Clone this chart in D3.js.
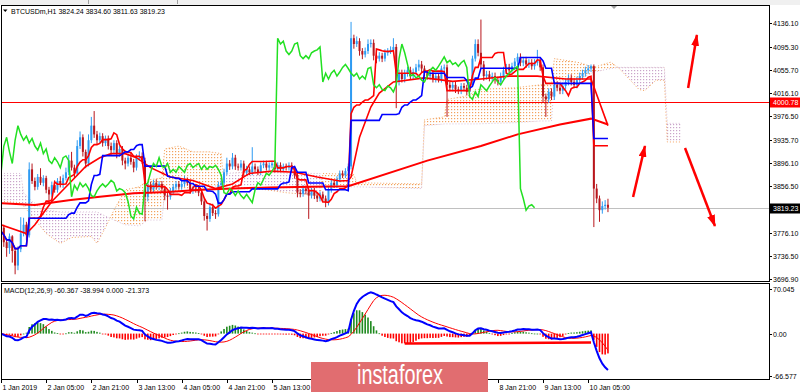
<!DOCTYPE html>
<html>
<head>
<meta charset="utf-8">
<script src="https://cdn.jsdelivr.net/npm/d3@7"></script>
<style>
  body { margin: 0; background: #fff; }
  svg { display: block; }
  text { font-family: "Liberation Sans", Arial, sans-serif; }
</style>
</head>
<body>
<svg id="chart" width="800" height="392"></svg>
<script>
// ---- data ----
const titleText = "BTCUSDm,H1  3824.24 3834.60 3811.63 3819.23";
const macdTitle = "MACD(12,26,9) -60.367 -38.994 0.000 -21.373";

// hourly candles, bar 0 = 1 Jan 13:00
const firstOpen = 3775;
const closes = [
  3785,3760,3750,3770,3745,3720,3748,3775,3790,3772,
  3885,3865,3855,3872,3862,3870,3850,3842,3858,3850,
  3865,3858,3870,3880,3900,3888,3878,3925,3940,3915,
  3895,3935,3960,3945,3935,3942,3930,3938,3925,3918,
  3930,3912,3920,3900,3895,3905,3898,3888,3905,3908,
  3900,3838,3858,3850,3862,3855,3860,3852,3840,3838,
  3848,3855,3860,3855,3860,3866,3862,3848,3852,3850,
  3845,3830,3805,3800,3820,3810,3808,3858,3862,3880,
  3895,3890,3905,3890,3888,3895,3880,3885,3880,3890,
  3885,3880,3892,3895,3888,3892,3895,3885,3892,3885,
  3890,3888,3892,3885,3875,3845,3843,3852,3848,3840,
  3848,3840,3835,3842,3835,3828,3850,3862,3858,3868,
  3878,3875,3882,3890,4110,4100,4105,4088,4082,4088,
  4100,4102,4080,4075,4080,4075,4085,4088,4090,4095,
  4035,4050,4040,4050,4055,4045,4052,4060,4065,4058,
  4050,4045,4050,4040,4045,4040,4058,4060,4030,4025,
  4030,4022,4020,4028,4025,4018,4030,4075,4100,4085,
  4065,4045,4048,4042,4045,4038,4035,4045,4055,4060,
  4055,4062,4070,4078,4068,4072,4065,4068,4062,4068,
  4072,4060,4010,4005,4018,4010,4030,4025,4020,4028,
  4035,4042,4035,4030,4038,4045,4050,4055,4058,4062,
  3852,3835,3815,3822,3824.24,3819.23
];
// wick length above the body / below the body
const upWick = [
  8,5,6,5,2,5,5,28,12,5,  12,10,6,5,15,5,4,5,6,8,  5,8,6,8,10,15,5,10,10,5,
  4,10,15,25,6,6,5,5,5,6,  5,5,6,5,5,6,8,5,6,8,  6,5,5,6,5,6,5,5,5,5,
  5,5,5,5,5,8,5,5,5,5,  5,5,5,5,6,6,5,6,8,6,  10,6,8,5,5,6,5,6,5,33,
  5,5,5,5,5,5,5,5,5,5,  5,5,5,5,5,5,6,6,5,8,  5,5,5,5,5,5,5,5,5,5,
  5,5,5,5,28,6,8,5,5,6,  8,6,6,5,6,5,6,5,6,15,  5,6,6,6,6,6,6,6,8,6,
  5,5,5,5,5,5,5,5,5,5,  5,5,5,5,5,5,5,5,8,8,  57,6,6,6,6,6,6,6,6,6,
  6,6,6,6,6,6,6,6,6,6,  18,5,5,5,6,6,6,6,6,6,  6,6,6,6,6,6,6,6,6,3,
  3,8,5,8,8,10.36
];
const downWick = [
  10,8,15,10,20,15,8,5,5,8,  4,5,6,5,4,6,6,10,4,5,  5,4,5,4,5,5,8,4,5,8,
  8,5,5,6,8,5,6,5,6,8,  5,8,5,8,10,5,5,8,5,5,  6,42,8,6,5,5,6,6,8,22,
  5,5,5,5,5,5,5,5,5,5,  6,6,8,20,5,5,8,4,5,5,  5,6,5,6,5,5,6,5,5,5,
  5,5,5,5,5,5,5,5,5,5,  5,5,5,5,6,8,6,5,6,40,  5,6,6,5,6,8,5,5,5,5,
  5,5,5,5,5,8,5,8,8,5,  5,6,8,8,5,6,5,5,5,5,  45,6,6,6,6,6,6,6,6,6,
  6,6,6,6,6,6,6,6,55,6,  6,6,6,6,6,6,6,4,5,6,  6,8,6,6,6,6,6,6,6,6,
  6,6,6,6,6,6,6,6,6,6,  5,6,10,30,6,6,6,6,6,6,  6,6,6,6,6,6,6,6,6,6,
  66,8,20,6,6,7.6
];

// Ichimoku cloud (Senkou spans, already shifted 26 bars ahead)
const cloudBars = [0,7,8,11,16,21,25,32,34,37,40,44,49,52,57,58,63,68,74,78,79,86,94,101,113,114,125,126,149,150,157,158,166,168,182,191,195,196,205,210,216,219,226,228,232,235,236,241];
const cloudA = [3830,3828,3822,3805,3775,3758,3768,3770,3758,3785,3815,3850,3855,3867,3870,3920,3925,3915,3915,3912,3860,3852,3850,3845,3840,3878,3876,3862,3860,3970,3975,4005,4012,4022,4025,4030,4032,4075,4068,4060,4069,4058,4022,4020,4038,4038,3932,3932];
const cloudB = [3878,3878,3845,3830,3815,3812,3812,3812,3812,3805,3798,3790,3788,3798,3798,3845,3845,3850,3855,3858,3878,3880,3882,3878,3878,3855,3855,3855,3852,3960,3963,3963,3963,3963,3965,3968,3968,4035,4040,4052,4058,4060,4060,4060,4060,4060,3964,3964];

// moving averages
const maSlowBars = [0,12,24,35,47,59,71,82,95,110,123,151,170,183,198,209,215];
const maSlowVals = [3827,3824,3832,3838,3844,3846,3850,3852,3854,3855,3856,3900,3925,3945,3962,3972,3962];
const maFastBars = [0,9,12,18,24,30,35,39,44,48,53,60,68,76,82,88,96,104,112,120,123,124,127,131,134,139,150,160,170,180,190,200,209,215];
const maFastVals = [3790,3775,3790,3830,3860,3890,3905,3912,3912,3905,3888,3872,3866,3852,3860,3878,3882,3880,3872,3865,3866,3872,3940,3992,4016,4035,4042,4036,4040,4045,4045,4040,4040,3960];

// horizontal levels
const levelPrice = 4000.78;
const lastPrice = 3819.23;

// drawn arrows [bar, price] -> [bar, price]
const arrows = [
  {from: [243.4, 4024.6], to: [246.5, 4115.5]},
  {from: [223.9, 3837.6], to: [228.1, 3925.0]},
  {from: [242.3, 3921.6], to: [252.9, 3787.8]}
];
// trend line on the MACD window
const macdTrend = [{bar: 143, v: -15.5}, {bar: 209, v: -14.0}];

const priceTicks = [4136.10, 4095.30, 4055.70, 4016.10, 3976.50, 3935.70, 3896.10, 3856.50, 3776.10, 3736.50, 3696.90];
const macdTicks = [{v: 70.045, t: "70.045"}, {v: 0, t: "0.00"}, {v: -66.577, t: "-66.577"}];
// labels still visible (the ones under the watermark are hidden in the picture)
const timeLabels = [
  {bar: 0, t: "1 Jan 2019"}, {bar: 16, t: "2 Jan 05:00"}, {bar: 32, t: "2 Jan 21:00"},
  {bar: 48, t: "3 Jan 13:00"}, {bar: 64, t: "4 Jan 05:00"}, {bar: 80, t: "4 Jan 21:00"},
  {bar: 96, t: "5 Jan 13:00"}, {bar: 176, t: "8 Jan 21:00"},
  {bar: 192, t: "9 Jan 13:00"}, {bar: 208, t: "10 Jan 05:00"}
];

// ---- layout ----
const svg = d3.select("#chart");
const main = {left: 1, right: 769, top: 5, bottom: 281};
const sub = {top: 283, bottom: 379};

const x = d3.scaleLinear().domain([0, 208]).range([1, 588.2]);
const y = d3.scaleLinear().domain([3696.9, 4136.1]).range([279, 23]);
const ym = d3.scaleLinear().domain([-66.577, 70.045]).range([376, 289]);

// ---- derived series ----
const bars = closes.map((c, i) => {
  const o = i === 0 ? firstOpen : closes[i - 1];
  return {i, o, c, h: Math.max(o, c) + upWick[i], l: Math.min(o, c) - downWick[i]};
});

function midRange(i, n) {
  const win = bars.slice(Math.max(0, i - n + 1), i + 1);
  return (d3.max(win, d => d.h) + d3.min(win, d => d.l)) / 2;
}
const tenkan = bars.map(d => ({bar: d.i, v: midRange(d.i, 9)}));
const kijun = bars.map(d => ({bar: d.i, v: midRange(d.i, 26)}));
const chikou = bars.filter(d => d.i >= 26).map(d => ({bar: d.i - 26, v: d.c}));

function ema(vals, n) {
  const k = 2 / (n + 1);
  let e = vals[0];
  return vals.map(v => (e = e + k * (v - e)));
}
const e12 = ema(closes, 12), e26 = ema(closes, 26);
const macd = closes.map((_, i) => e12[i] - e26[i]);
const signal = macd.map((_, i) => d3.mean(macd.slice(Math.max(0, i - 8), i + 1)));
const hist = macd.map((m, i) => m - signal[i]);

// ---- defs ----
const defs = svg.append("defs");
function dotPattern(id, color) {
  const p = defs.append("pattern").attr("id", id)
    .attr("width", 3).attr("height", 3).attr("patternUnits", "userSpaceOnUse");
  p.append("rect").attr("x", 1).attr("y", 1).attr("width", 1.2).attr("height", 1.2).attr("fill", color);
}
dotPattern("dotsA", "#f2a25e");
dotPattern("dotsB", "#c9a3c9");

defs.append("clipPath").attr("id", "clipMain").append("rect")
  .attr("x", main.left + 1).attr("y", main.top + 1)
  .attr("width", main.right - main.left - 1).attr("height", main.bottom - main.top - 1);
defs.append("clipPath").attr("id", "clipSub").append("rect")
  .attr("x", main.left + 1).attr("y", sub.top + 1)
  .attr("width", main.right - main.left - 1).attr("height", sub.bottom - sub.top - 1);

const cloud = cloudBars.map((b, k) => ({b, a: cloudA[k], s: cloudB[k]}));
defs.append("clipPath").attr("id", "aboveB").append("path")
  .attr("d", d3.area().x(d => x(d.b)).y0(main.top).y1(d => y(d.s))(cloud));
defs.append("clipPath").attr("id", "belowB").append("path")
  .attr("d", d3.area().x(d => x(d.b)).y0(main.bottom).y1(d => y(d.s))(cloud));

const mk = defs.append("marker").attr("id", "head")
  .attr("viewBox", "0 0 12 8").attr("refX", 11).attr("refY", 4)
  .attr("markerWidth", 12).attr("markerHeight", 8)
  .attr("markerUnits", "userSpaceOnUse").attr("orient", "auto");
mk.append("path").attr("d", "M0,0 L12,4 L0,8 Z").attr("fill", "#ff0000");

// ---- window chrome ----
svg.append("rect").attr("x", 0).attr("y", 0).attr("width", 800).attr("height", 5).attr("fill", "#f0f0f0");
[88.5, 177.5].forEach(px => svg.append("line").attr("x1", px).attr("x2", px).attr("y1", 0).attr("y2", 4)
  .attr("stroke", "#a0a0a0"));

// ---- main chart ----
const g = svg.append("g").attr("clip-path", "url(#clipMain)");

const band = d3.area().x(d => x(d.b)).y0(d => y(d.s)).y1(d => y(d.a));
g.append("path").attr("d", band(cloud)).attr("fill", "url(#dotsA)").attr("clip-path", "url(#aboveB)");
g.append("path").attr("d", band(cloud)).attr("fill", "url(#dotsB)").attr("clip-path", "url(#belowB)");
g.append("path").attr("d", d3.line().x(d => x(d.b)).y(d => y(d.a))(cloud))
  .attr("fill", "none").attr("stroke", "#f4a460").attr("stroke-width", 1).attr("stroke-dasharray", "1,2");
g.append("path").attr("d", d3.line().x(d => x(d.b)).y(d => y(d.s))(cloud))
  .attr("fill", "none").attr("stroke", "#d8bfd8").attr("stroke-width", 1).attr("stroke-dasharray", "1,2");

// level lines
g.append("line").attr("x1", main.left).attr("x2", main.right)
  .attr("y1", Math.round(y(lastPrice)) + 0.5).attr("y2", Math.round(y(lastPrice)) + 0.5)
  .attr("stroke", "#c0c0c0");
g.append("line").attr("x1", main.left).attr("x2", main.right)
  .attr("y1", Math.round(y(levelPrice)) + 0.5).attr("y2", Math.round(y(levelPrice)) + 0.5)
  .attr("stroke", "#ff0000");

// candles
const bull = "#2e9bf2", bear = "#b8161c";
const cg = g.append("g");
cg.selectAll("line.wick").data(bars).join("line").attr("class", "wick")
  .attr("x1", d => x(d.i)).attr("x2", d => x(d.i))
  .attr("y1", d => y(d.h)).attr("y2", d => y(d.l))
  .attr("stroke", d => d.c >= d.o ? bull : bear).attr("stroke-width", 1);
cg.selectAll("rect.body").data(bars).join("rect").attr("class", "body")
  .attr("x", d => x(d.i) - 1).attr("width", 2)
  .attr("y", d => y(Math.max(d.o, d.c)))
  .attr("height", d => Math.max(1, Math.abs(y(d.o) - y(d.c))))
  .attr("fill", d => d.c >= d.o ? bull : bear);

// moving averages
const lineOf = (bs, vs) => d3.line().x((d, k) => x(bs[k])).y((d, k) => y(vs[k]))(vs);
g.append("path").attr("d", lineOf(maSlowBars, maSlowVals))
  .attr("fill", "none").attr("stroke", "#ff0000").attr("stroke-width", 2);
g.append("path").attr("d", lineOf(maFastBars, maFastVals))
  .attr("fill", "none").attr("stroke", "#ff0000").attr("stroke-width", 1.6);

// Ichimoku lines
const pl = d3.line().x(d => x(d.bar)).y(d => y(d.v));
g.append("path").attr("d", pl(tenkan)).attr("fill", "none").attr("stroke", "#ff0000").attr("stroke-width", 1.6);
g.append("path").attr("d", pl(kijun)).attr("fill", "none").attr("stroke", "#0000ff").attr("stroke-width", 1.6);
g.append("path").attr("d", pl(chikou)).attr("fill", "none").attr("stroke", "#22e022").attr("stroke-width", 1.5);

// arrows
g.selectAll("line.arrow").data(arrows).join("line").attr("class", "arrow")
  .attr("x1", d => x(d.from[0])).attr("y1", d => y(d.from[1]))
  .attr("x2", d => x(d.to[0])).attr("y2", d => y(d.to[1]))
  .attr("stroke", "#ff0000").attr("stroke-width", 2.5).attr("marker-end", "url(#head)");

// chart shift marker
svg.append("path").attr("d", "M611,6 L617,6 L614,9 Z").attr("fill", "#a0a0a0");

// title
svg.append("path").attr("d", "M3,9.5 L7.5,9.5 L5.25,12 Z").attr("fill", "#000");
svg.append("text").attr("x", 11).attr("y", 14).attr("font-size", 7).attr("fill", "#000").text(titleText);

// ---- MACD window ----
const sg = svg.append("g").attr("clip-path", "url(#clipSub)");
sg.selectAll("rect.hist").data(hist).join("rect").attr("class", "hist")
  .attr("x", (d, i) => x(i) - 0.8).attr("width", 1.6)
  .attr("y", d => Math.min(ym(d), ym(0)))
  .attr("height", d => Math.max(0.8, Math.abs(ym(d) - ym(0))))
  .attr("fill", d => d >= 0 ? "#1f8a1f" : "#ff0000");
const ml = d3.line().x((d, i) => x(i)).y(d => ym(d));
sg.append("path").attr("d", ml(signal)).attr("fill", "none").attr("stroke", "#ff0000").attr("stroke-width", 1);
sg.append("path").attr("d", ml(macd)).attr("fill", "none").attr("stroke", "#0000ff").attr("stroke-width", 2);
sg.append("line")
  .attr("x1", x(macdTrend[0].bar)).attr("y1", ym(macdTrend[0].v))
  .attr("x2", x(macdTrend[1].bar)).attr("y2", ym(macdTrend[1].v))
  .attr("stroke", "#ff0000").attr("stroke-width", 2.5);
svg.append("text").attr("x", 4).attr("y", 293).attr("font-size", 7).attr("fill", "#000").text(macdTitle);

// ---- frames ----
[[main.top, main.bottom], [sub.top, sub.bottom]].forEach(([t, b]) => {
  svg.append("rect").attr("x", main.left + 0.5).attr("y", t + 0.5)
    .attr("width", main.right - main.left).attr("height", b - t)
    .attr("fill", "none").attr("stroke", "#000").attr("stroke-width", 1);
});

// price axis
const axis = svg.append("g");
priceTicks.forEach(p => {
  const py = Math.round(y(p)) + 0.5;
  axis.append("line").attr("x1", main.right).attr("x2", main.right + 3).attr("y1", py).attr("y2", py).attr("stroke", "#000");
  axis.append("text").attr("x", 773).attr("y", py + 2.5).attr("font-size", 7).text(p.toFixed(2));
});
macdTicks.forEach(d => {
  const py = Math.round(ym(d.v)) + 0.5;
  axis.append("line").attr("x1", main.right).attr("x2", main.right + 3).attr("y1", py).attr("y2", py).attr("stroke", "#000");
  axis.append("text").attr("x", 773).attr("y", py + 2.5).attr("font-size", 7).text(d.t);
});
[[levelPrice, "#ff0000"], [lastPrice, "#000000"]].forEach(([p, col]) => {
  const py = Math.round(y(p)) + 0.5;
  axis.append("rect").attr("x", main.right + 1).attr("y", py - 5).attr("width", 30).attr("height", 10).attr("fill", col);
  axis.append("text").attr("x", 773).attr("y", py + 2.5).attr("font-size", 7).attr("fill", "#fff").text(p.toFixed(2));
});

// time axis
timeLabels.forEach(d => {
  const px = Math.round(x(d.bar)) + 0.5;
  axis.append("line").attr("x1", px).attr("x2", px).attr("y1", sub.bottom).attr("y2", sub.bottom + 4).attr("stroke", "#000");
  axis.append("text").attr("x", px + 1).attr("y", 390).attr("font-size", 7).text(d.t);
});

// watermark
svg.append("rect").attr("x", 311).attr("y", 362).attr("width", 177).attr("height", 30).attr("fill", "#e16d70");
svg.append("text").attr("x", 400).attr("y", 384).attr("text-anchor", "middle")
  .attr("font-family", "Roboto, 'Liberation Sans', sans-serif").attr("font-weight", 300)
  .attr("font-size", 27).attr("fill", "#fff")
  .attr("textLength", 86).attr("lengthAdjust", "spacingAndGlyphs").text("instaforex");
</script>
</body>
</html>
